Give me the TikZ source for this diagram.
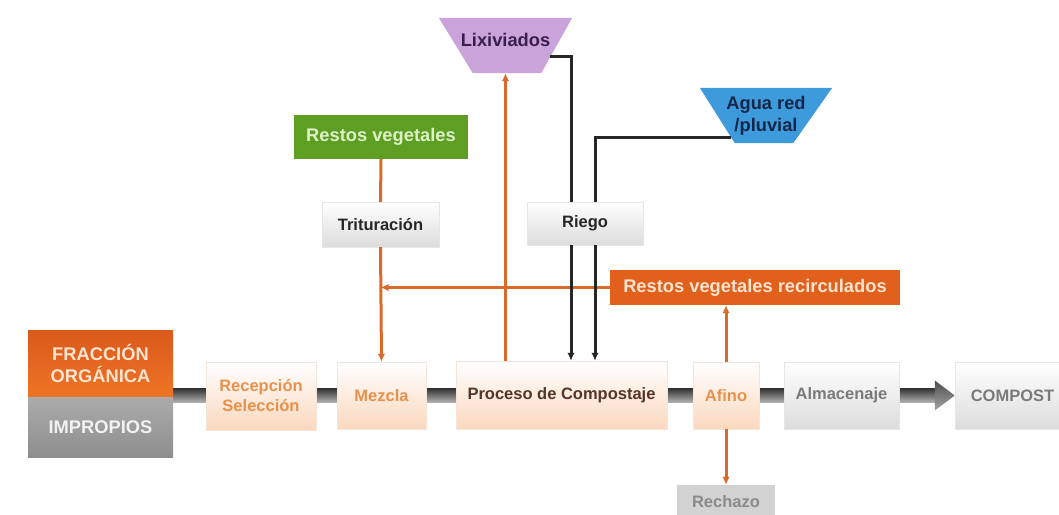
\documentclass[tikz,border=0pt]{standalone}
\usepackage{fontspec}
\setmainfont{Liberation Sans}
\usetikzlibrary{arrows.meta}
\usetikzlibrary{shapes}
\usetikzlibrary{calc}
\usetikzlibrary{backgrounds}

\definecolor{fracA}{HTML}{DA5A1C}
\definecolor{fracB}{HTML}{EE7424}
\definecolor{fractxt}{HTML}{FCE4D0}
\definecolor{imprA}{HTML}{ABABAB}
\definecolor{imprB}{HTML}{8E8E8E}
\definecolor{imprtxt}{HTML}{F2F2F2}
\definecolor{naranja}{HTML}{E0601C}
\definecolor{naranjatxt}{HTML}{E8914C}
\definecolor{marron}{HTML}{553526}
\definecolor{peachbot}{HTML}{FAD8BE}
\definecolor{peachline}{HTML}{F5E4D8}
\definecolor{palebot}{HTML}{DCDCDC}
\definecolor{paleline}{HTML}{E6E6E6}
\definecolor{grisbox}{HTML}{7A7A7A}
\definecolor{rechfill}{HTML}{D2D2D2}
\definecolor{rechtxt}{HTML}{8A8A8A}
\definecolor{verde}{HTML}{5E9E22}
\definecolor{verdetxt}{HTML}{DDF0C8}
\definecolor{lila}{HTML}{C9A3DA}
\definecolor{lilatxt}{HTML}{3A1F4E}
\definecolor{azul}{HTML}{3E9BDB}
\definecolor{azultxt}{HTML}{14264A}
\definecolor{linea}{HTML}{D96A2C}

\begin{document}
\begin{tikzpicture}[x=1pt, y=-1pt,
  every node/.style={inner sep=0pt, align=center, font=\fontsize{16.5}{20}\selectfont\bfseries},
  big/.style={font=\fontsize{18.3}{22}\selectfont\bfseries},
  peach/.style={top color=white, bottom color=peachbot, draw=peachline},
  pale/.style={top color=white, bottom color=palebot, draw=paleline},
  flujo/.style={draw=linea, line width=3pt},
  negro/.style={draw=black!85, line width=3pt},
  punta/.style={-{Latex[length=8pt,width=7.5pt]}}]
\clip (0,0) rectangle (1059,514);
\node[big, minimum width=145, minimum height=67, top color=fracA, bottom color=fracB, text=fractxt] (frac) at (100.5,363.5) {FRACCIÓN\\ORGÁNICA};
\node[big, minimum width=145, minimum height=60, top color=imprA, bottom color=imprB, text=imprtxt] (impr) at (100.5,427) {IMPROPIOS};
\node[peach, text=naranjatxt, minimum width=110, minimum height=68] (recep) at (261,396) {Recepción\\Selección};
\node[peach, text=naranjatxt, minimum width=89, minimum height=67] (mez) at (381.5,395.5) {Mezcla};
\node[peach, text=marron, minimum width=211, minimum height=68] (proc) at (561.5,395) {Proceso de Compostaje};
\node[peach, text=naranjatxt, minimum width=66, minimum height=67] (afino) at (726,395.5) {Afino};
\node[pale, text=grisbox, minimum width=115, minimum height=67] (alm) at (841.5,395.5) {Almacenaje};
\node[pale, text=grisbox, minimum width=115, minimum height=67] (compost) at (1012.5,395.5) {COMPOST};
\node[fill=rechfill, text=rechtxt, minimum width=98, minimum height=34] (rech) at (726,502) {Rechazo};
\node[big, fill=naranja, text=fractxt, minimum width=290, minimum height=35] (recirc) at (755,287.5) {Restos vegetales recirculados};
\node[big, fill=verde, text=verdetxt, minimum width=174, minimum height=44] (rv) at (381,137) {Restos vegetales};
\node[pale, text=black!85, minimum width=117, minimum height=45] (trit) at (380.5,224.5) {Trituración};
\node[pale, text=black!85, minimum width=116, minimum height=43] (riego) at (585,223.5) {Riego};
\node[big, text=lilatxt, text depth=12pt, minimum width=133, minimum height=55] (lix) at (505.5,45.5) {Lixiviados};
\node[big, text=azultxt, minimum width=132, minimum height=55] (agua) at (766,115.5) {Agua red\\/pluvial};

\begin{pgfonlayer}{background}
% embudos
\fill[lila] (lix.north west) -- (lix.north east) -- ($(lix.south east)+(-31,0)$) -- ($(lix.south west)+(34,0)$) -- cycle;
\fill[azul] (agua.north west) -- (agua.north east) -- ($(agua.south east)+(-39,0)$) -- ($(agua.south west)+(35,0)$) -- cycle;
% barra principal
\coordinate (b0) at (impr.north east |- compost.west);
\coordinate (b1) at ($(compost.west)+(-20,0)$);
\shade[top color=black!80, bottom color=black!30] ($(b0)+(0,-7)$) rectangle ($(b1)+(0,7)$);
\shade[top color=black!70, bottom color=black!35] ($(b1)+(0,-15)$) -- (compost.west) -- ($(b1)+(0,15)$) -- cycle;
\end{pgfonlayer}

\coordinate (lixsal) at ($(lix.north east)!0.7!(lix.south east)+(-22,0)$);
\coordinate (aguasal) at ($(agua.north west)!0.89!(agua.south west)+(31,0)$);

\draw[flujo] (rv.south) -- (trit.north);
\draw[flujo, punta] (trit.south) -- (mez.north);
\draw[flujo, punta] (recirc.west) -- (trit.south |- recirc.west);
\draw[flujo, punta] (lix.south |- proc.north) -- (lix.south);
\draw[flujo, punta] (afino.north) -- (afino.north |- recirc.south);
\draw[flujo, punta] (afino.south) -- (rech.north);
\draw[negro] (lixsal) -| ([xshift=-14pt]riego.north);
\draw[negro, punta] ([xshift=-14pt]riego.south) -- ([xshift=-14pt]riego.south |- proc.north);
\draw[negro] (aguasal) -| ([xshift=10pt]riego.north);
\draw[negro, punta] ([xshift=10pt]riego.south) -- ([xshift=10pt]riego.south |- proc.north);
\end{tikzpicture}
\end{document}
